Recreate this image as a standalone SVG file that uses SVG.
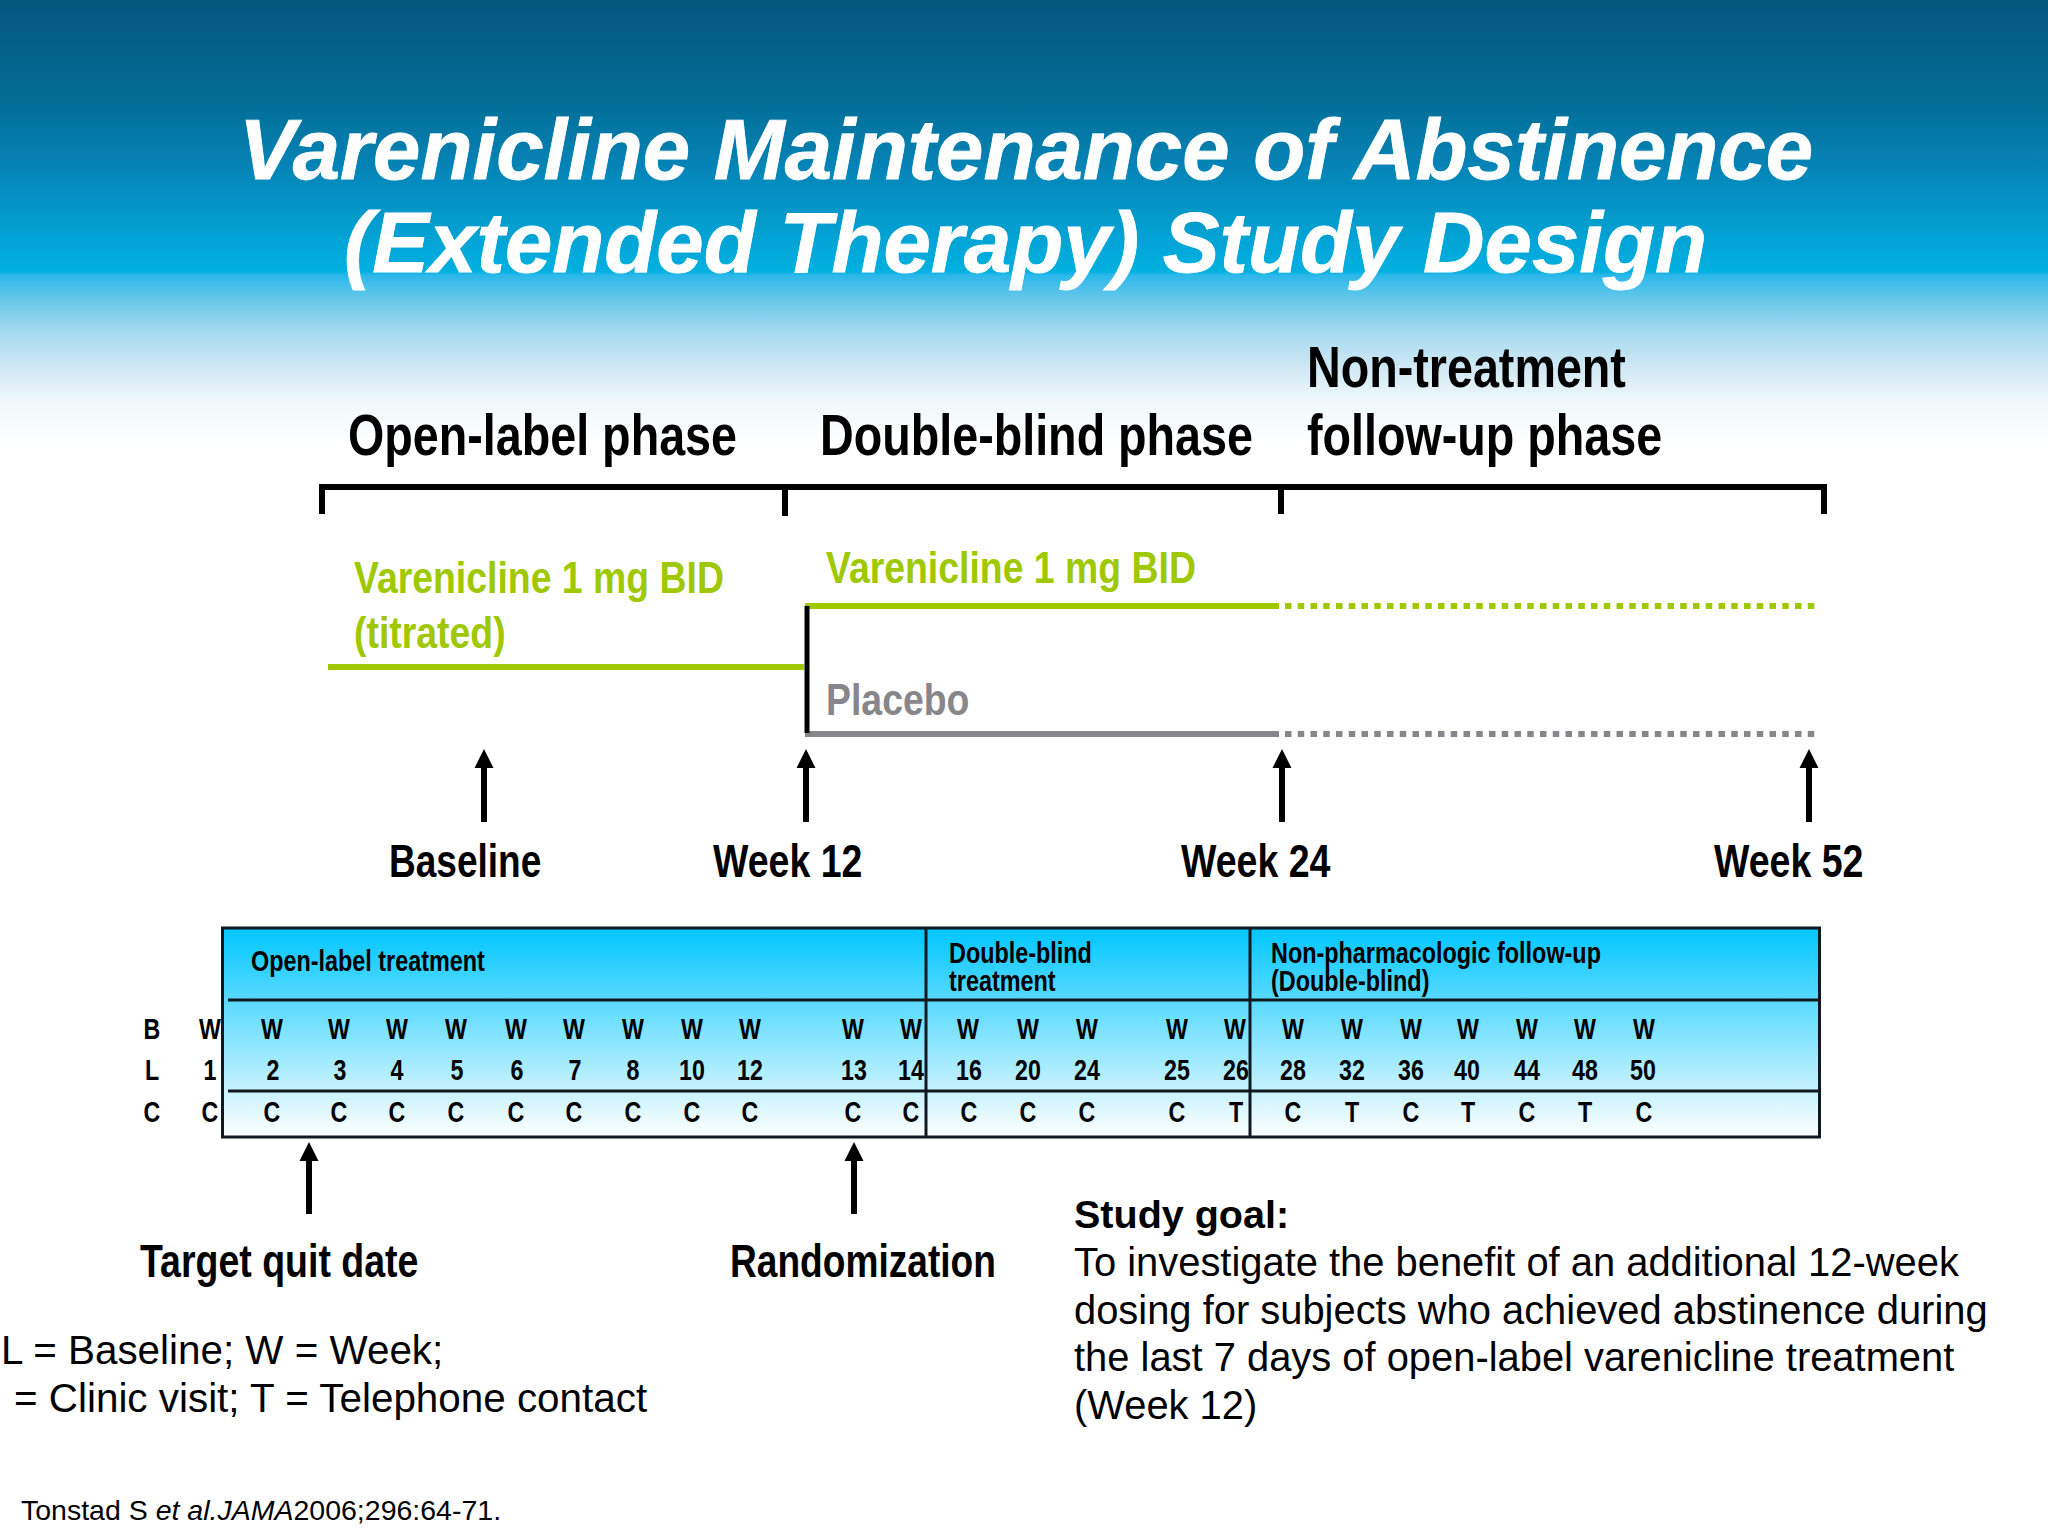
<svg xmlns="http://www.w3.org/2000/svg" width="2048" height="1536" viewBox="0 0 2048 1536">
<style>
text{font-family:"Liberation Sans",Arial,sans-serif;fill:#000}
.n{font-weight:700}
.t{font-weight:700;font-style:italic;font-size:85px;fill:#fff;stroke:#fff;stroke-width:.8}
.p{font-size:58px}.w{font-size:46px}.g{fill:#a0c800;font-size:44px}.pl{fill:#87868a;font-size:44px}
.h{font-size:29.500px}.c{font-size:29px;text-anchor:middle}
.b{font-size:39.900px}.l{font-size:40.400px}.s{font-size:28.500px}
.ln{fill:none;stroke:#000;stroke-width:6}
</style>
<defs>
<linearGradient id="bg" gradientUnits="userSpaceOnUse" x1="0" y1="0" x2="0" y2="445"><stop offset="0" stop-color="#04567c"/><stop offset=".225" stop-color="#036d96"/><stop offset=".382" stop-color="#0585b8"/><stop offset=".56" stop-color="#02a8d9"/><stop offset=".61" stop-color="#01b0e0"/><stop offset=".618" stop-color="#2bb7ea"/><stop offset=".674" stop-color="#68c8ea"/><stop offset=".75" stop-color="#a8daf0"/><stop offset=".825" stop-color="#cfe8f4"/><stop offset=".9" stop-color="#eef8fb"/><stop offset="1" stop-color="#fff"/></linearGradient>
<linearGradient id="tb" x1="0" y1="0" x2="0" y2="1"><stop offset="0" stop-color="#00c6ff"/><stop offset="1" stop-color="#fff"/></linearGradient>
</defs>
<rect width="2048" height="1536" fill="#fff"/>
<rect id="banner" width="2048" height="445" fill="url(#bg)"/>
<g id="title">
<text class="t" x="239" y="179" textLength="1574" lengthAdjust="spacingAndGlyphs">Varenicline Maintenance of Abstinence</text>
<text class="t" x="344" y="272" textLength="1363" lengthAdjust="spacingAndGlyphs">(Extended Therapy) Study Design</text>
</g>
<g id="phases">
<text class="n p" transform="translate(348 455) scale(.805 1)">Open-label phase</text>
<text class="n p" transform="translate(820 455) scale(.805 1)">Double-blind phase</text>
<text class="n p" transform="translate(1307 387) scale(.805 1)">Non-treatment</text>
<text class="n p" transform="translate(1307 455) scale(.805 1)">follow-up phase</text>
</g>
<g id="connectors">
<path class="ln" d="M322 514V487H1824V514M785 487V516M1281 487V514"/>
<path fill="none" stroke="#a0c800" stroke-width="6" d="M328 667H804M805 606H1279"/>
<path fill="none" stroke="#a0c800" stroke-width="6" stroke-dasharray="6.500 6.250" d="M1285 606H1816"/>
<path fill="none" stroke="#87868a" stroke-width="6" d="M805 734H1279"/>
<path fill="none" stroke="#87868a" stroke-width="6" stroke-dasharray="6.500 6.250" d="M1285 734H1816"/>
<path fill="none" stroke="#000" stroke-width="5" d="M807 606V733"/>
<g id="arrows">
<path d="M484 749l-9.500 19h6.500V822h6V768h6.500z"/>
<path d="M806 749l-9.500 19h6.500V822h6V768h6.500z"/>
<path d="M1282 749l-9.500 19h6.500V822h6V768h6.500z"/>
<path d="M1809 749l-9.500 19h6.500V822h6V768h6.500z"/>
<path d="M309 1142l-9.500 19h6.500V1214h6V1161h6.500z"/>
<path d="M854 1142l-9.500 19h6.500V1214h6V1161h6.500z"/>
</g>
</g>
<g id="doses">
<text class="n g" transform="translate(354 593) scale(.85 1)">Varenicline 1 mg BID</text>
<text class="n g" transform="translate(354 648) scale(.85 1)">(titrated)</text>
<text class="n g" transform="translate(826 583) scale(.85 1)">Varenicline 1 mg BID</text>
<text class="n pl" transform="translate(826 715) scale(.85 1)">Placebo</text>
</g>
<g id="timepoints">
<text class="n w" transform="translate(389 877) scale(.805 1)">Baseline</text>
<text class="n w" transform="translate(713 877) scale(.815 1)">Week 12</text>
<text class="n w" transform="translate(1181 877) scale(.815 1)">Week 24</text>
<text class="n w" transform="translate(1714 877) scale(.815 1)">Week 52</text>
</g>
<g id="schedule">
<rect x="222.500" y="928" width="1597" height="209" fill="url(#tb)" stroke="#101820" stroke-width="3"/>
<path fill="none" stroke="#101820" stroke-width="3" d="M228 1000H1819M228 1091H1819M926 928V1137M1250 928V1137"/>
<text class="n h" transform="translate(251 971) scale(.793 1)">Open-label treatment</text>
<text class="n h" transform="translate(949 963) scale(.793 1)">Double-blind</text>
<text class="n h" transform="translate(949 991) scale(.793 1)">treatment</text>
<text class="n h" transform="translate(1271 963) scale(.793 1)">Non-pharmacologic follow-up</text>
<text class="n h" transform="translate(1271 991) scale(.793 1)">(Double-blind)</text>
<g id="cols">
<text class="n c" transform="translate(152 1039) scale(.8 1)">B</text><text class="n c" transform="translate(152 1080) scale(.8 1)">L</text><text class="n c" transform="translate(152 1122) scale(.8 1)">C</text>
<text class="n c" transform="translate(210 1039) scale(.8 1)">W</text><text class="n c" transform="translate(210 1080) scale(.8 1)">1</text><text class="n c" transform="translate(210 1122) scale(.8 1)">C</text>
<text class="n c" transform="translate(272 1039) scale(.8 1)">W</text><text class="n c" transform="translate(273 1080) scale(.8 1)">2</text><text class="n c" transform="translate(272 1122) scale(.8 1)">C</text>
<text class="n c" transform="translate(339 1039) scale(.8 1)">W</text><text class="n c" transform="translate(340 1080) scale(.8 1)">3</text><text class="n c" transform="translate(339 1122) scale(.8 1)">C</text>
<text class="n c" transform="translate(397 1039) scale(.8 1)">W</text><text class="n c" transform="translate(397 1080) scale(.8 1)">4</text><text class="n c" transform="translate(397 1122) scale(.8 1)">C</text>
<text class="n c" transform="translate(456 1039) scale(.8 1)">W</text><text class="n c" transform="translate(457 1080) scale(.8 1)">5</text><text class="n c" transform="translate(456 1122) scale(.8 1)">C</text>
<text class="n c" transform="translate(516 1039) scale(.8 1)">W</text><text class="n c" transform="translate(517 1080) scale(.8 1)">6</text><text class="n c" transform="translate(516 1122) scale(.8 1)">C</text>
<text class="n c" transform="translate(574 1039) scale(.8 1)">W</text><text class="n c" transform="translate(575 1080) scale(.8 1)">7</text><text class="n c" transform="translate(574 1122) scale(.8 1)">C</text>
<text class="n c" transform="translate(633 1039) scale(.8 1)">W</text><text class="n c" transform="translate(633 1080) scale(.8 1)">8</text><text class="n c" transform="translate(633 1122) scale(.8 1)">C</text>
<text class="n c" transform="translate(692 1039) scale(.8 1)">W</text><text class="n c" transform="translate(692 1080) scale(.8 1)">10</text><text class="n c" transform="translate(692 1122) scale(.8 1)">C</text>
<text class="n c" transform="translate(750 1039) scale(.8 1)">W</text><text class="n c" transform="translate(750 1080) scale(.8 1)">12</text><text class="n c" transform="translate(750 1122) scale(.8 1)">C</text>
<text class="n c" transform="translate(853 1039) scale(.8 1)">W</text><text class="n c" transform="translate(854 1080) scale(.8 1)">13</text><text class="n c" transform="translate(853 1122) scale(.8 1)">C</text>
<text class="n c" transform="translate(911 1039) scale(.8 1)">W</text><text class="n c" transform="translate(911 1080) scale(.8 1)">14</text><text class="n c" transform="translate(911 1122) scale(.8 1)">C</text>
<text class="n c" transform="translate(968 1039) scale(.8 1)">W</text><text class="n c" transform="translate(969 1080) scale(.8 1)">16</text><text class="n c" transform="translate(969 1122) scale(.8 1)">C</text>
<text class="n c" transform="translate(1028 1039) scale(.8 1)">W</text><text class="n c" transform="translate(1028 1080) scale(.8 1)">20</text><text class="n c" transform="translate(1028 1122) scale(.8 1)">C</text>
<text class="n c" transform="translate(1087 1039) scale(.8 1)">W</text><text class="n c" transform="translate(1087 1080) scale(.8 1)">24</text><text class="n c" transform="translate(1087 1122) scale(.8 1)">C</text>
<text class="n c" transform="translate(1177 1039) scale(.8 1)">W</text><text class="n c" transform="translate(1177 1080) scale(.8 1)">25</text><text class="n c" transform="translate(1177 1122) scale(.8 1)">C</text>
<text class="n c" transform="translate(1235 1039) scale(.8 1)">W</text><text class="n c" transform="translate(1236 1080) scale(.8 1)">26</text><text class="n c" transform="translate(1236 1122) scale(.8 1)">T</text>
<text class="n c" transform="translate(1293 1039) scale(.8 1)">W</text><text class="n c" transform="translate(1293 1080) scale(.8 1)">28</text><text class="n c" transform="translate(1293 1122) scale(.8 1)">C</text>
<text class="n c" transform="translate(1352 1039) scale(.8 1)">W</text><text class="n c" transform="translate(1352 1080) scale(.8 1)">32</text><text class="n c" transform="translate(1352 1122) scale(.8 1)">T</text>
<text class="n c" transform="translate(1411 1039) scale(.8 1)">W</text><text class="n c" transform="translate(1411 1080) scale(.8 1)">36</text><text class="n c" transform="translate(1411 1122) scale(.8 1)">C</text>
<text class="n c" transform="translate(1468 1039) scale(.8 1)">W</text><text class="n c" transform="translate(1467 1080) scale(.8 1)">40</text><text class="n c" transform="translate(1468 1122) scale(.8 1)">T</text>
<text class="n c" transform="translate(1527 1039) scale(.8 1)">W</text><text class="n c" transform="translate(1527 1080) scale(.8 1)">44</text><text class="n c" transform="translate(1527 1122) scale(.8 1)">C</text>
<text class="n c" transform="translate(1585 1039) scale(.8 1)">W</text><text class="n c" transform="translate(1585 1080) scale(.8 1)">48</text><text class="n c" transform="translate(1585 1122) scale(.8 1)">T</text>
<text class="n c" transform="translate(1644 1039) scale(.8 1)">W</text><text class="n c" transform="translate(1643 1080) scale(.8 1)">50</text><text class="n c" transform="translate(1644 1122) scale(.8 1)">C</text>
</g>
</g>
<g id="events">
<text class="n w" transform="translate(140 1277) scale(.815 1)">Target quit date</text>
<text class="n w" transform="translate(730 1277) scale(.807 1)">Randomization</text>
</g>
<g id="goal">
<text x="1074" y="1228" font-weight="700" font-size="39.500">Study goal:</text>
<text class="b" x="1074" y="1276">To investigate the benefit of an additional 12-week</text>
<text class="b" x="1074" y="1324">dosing for subjects who achieved abstinence during</text>
<text class="b" x="1074" y="1371">the last 7 days of open-label varenicline treatment</text>
<text class="b" x="1074" y="1419">(Week 12)</text>
</g>
<g id="legend">
<text class="l" x="1" y="1364">L = Baseline; W = Week;</text>
<text class="l" x="14" y="1412">= Clinic visit; T = Telephone contact</text>
</g>
<text id="cite" class="s" x="21" y="1520">Tonstad S <tspan font-style="italic">et al.JAMA</tspan>2006;296:64-71.</text>
</svg>
